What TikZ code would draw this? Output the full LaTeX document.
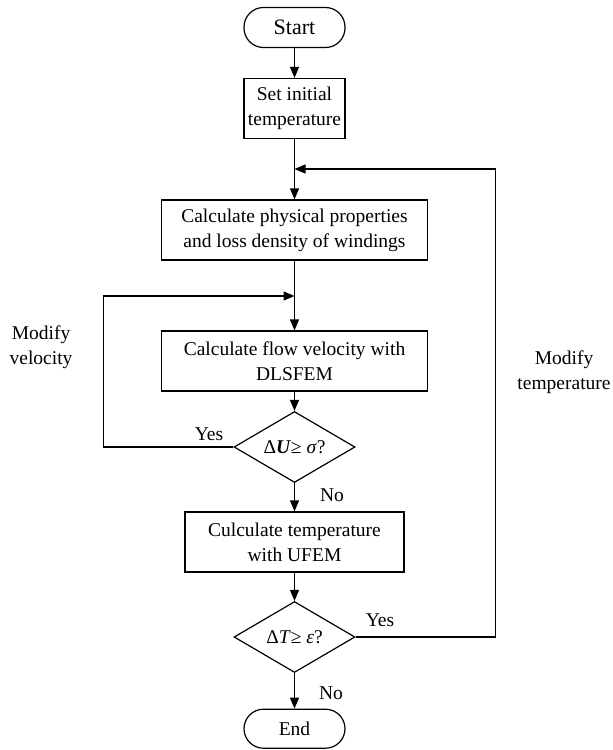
\documentclass[tikz,border=0pt]{standalone}
\usepackage{fontspec}
\setmainfont{Liberation Serif}
\usetikzlibrary{shapes.geometric,arrows.meta}

\tikzset{
  every node/.style={font=\fontsize{19.5}{25}\selectfont},
  term/.style={draw, line width=1.2pt, rectangle, rounded corners=19.5pt,
    minimum width=101pt, minimum height=40pt, inner sep=0pt},
  proc/.style={draw, line width=1.2pt, rectangle, align=center,
    minimum height=60pt, inner sep=0pt},
  decide/.style={draw, line width=1.2pt, diamond, aspect=1.7,
    minimum width=121pt, minimum height=71pt, inner sep=0pt},
  arr/.style={line width=1.2pt, -{Triangle[width=9pt,length=11pt]}},
  lin/.style={line width=1.2pt}
}

\begin{document}
\begin{tikzpicture}[x=1pt, y={(0pt,-1pt)}]
  \useasboundingbox (0,0) rectangle (613,750);

  \node[term, font=\fontsize{22}{26}\selectfont] (start) at (294.5,27.5) {Start};
  \node[proc, minimum width=101pt] (init) at (294.5,108.5) {Set initial\\temperature};
  \node[proc, minimum width=266pt] (props) at (294.5,230) {Calculate physical properties\\and loss density of windings};
  \node[proc, minimum width=266pt] (flow) at (294.5,361) {Calculate flow velocity with\\DLSFEM};
  \node[decide] (du) at (294.5,447) {Δ\textbf{\textit{U}}≥ \textit{σ}?};
  \node[proc, minimum width=219pt] (temp) at (294.5,542) {Culculate temperature\\with UFEM};
  \node[decide] (dt) at (294.5,637) {Δ\textit{T}≥ \textit{ε}?};
  \node[term, minimum height=39pt] (end) at (294.5,728.7) {End};

  \coordinate (vcorner) at (103.3,296);
  \coordinate (vjoin) at (294.5,296);
  \coordinate (tcorner) at (495.5,169);
  \coordinate (tjoin) at (294.5,169);

  \draw[arr] (start) -- (init);
  \draw[arr] (init) -- (props);
  \draw[arr] (props) -- (flow);
  \draw[arr] (flow) -- (du);
  \draw[arr] (du) -- (temp);
  \draw[arr] (temp) -- (dt);
  \draw[arr] (dt) -- (end);
  \draw[arr] (du.west) -| (vcorner) -- (vjoin);
  \draw[arr] (dt.east) -| (tcorner) -- (tjoin);

  \node (yes1) at (209,434) {Yes};
  \node (no1) at (332,495) {No};
  \node (yes2) at (380,620) {Yes};
  \node (no2) at (331,693) {No};
  \node[align=center] (modv) at (41,347) {Modify\\velocity};
  \node[align=center] (modt) at (564,372) {Modify\\temperature};
\end{tikzpicture}
\end{document}
